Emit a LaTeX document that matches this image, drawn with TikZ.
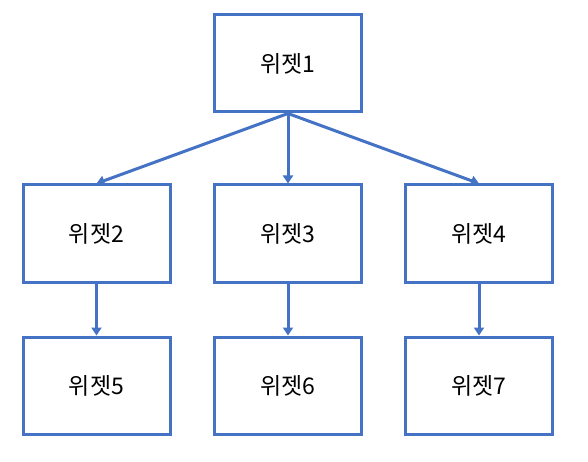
\documentclass[tikz,border=0pt]{standalone}
\usepackage{fontspec}
\setmainfont{Noto Sans CJK KR}
\usetikzlibrary{arrows.meta}
\definecolor{bl}{HTML}{4472C4}
\begin{document}
\begin{tikzpicture}[x=1pt,y=-1pt,
  wbox/.style={draw=bl,line width=3pt,minimum width=147pt,minimum height=97pt,inner sep=0pt,font=\fontsize{23}{27}\selectfont,anchor=center},
  conn/.style={draw=bl,line width=3pt,-{Triangle[width=10pt,length=8pt]}}]
\useasboundingbox (0,0) rectangle (588,462);
\node[wbox] (w1) at (288,63.5) {위젯1};
\node[wbox] (w2) at (96.5,233.5) {위젯2};
\node[wbox] (w3) at (288,233.5) {위젯3};
\node[wbox] (w4) at (479,233.5) {위젯4};
\node[wbox] (w5) at (96.5,385.5) {위젯5};
\node[wbox] (w6) at (288,385.5) {위젯6};
\node[wbox] (w7) at (479,385.5) {위젯7};
\draw[conn] (w1.south) -- (w2.north);
\draw[conn] (w1.south) -- (w3.north);
\draw[conn] (w1.south) -- (w4.north);
\draw[conn] (w2.south) -- (w5.north);
\draw[conn] (w3.south) -- (w6.north);
\draw[conn] (w4.south) -- (w7.north);
\end{tikzpicture}
\end{document}
